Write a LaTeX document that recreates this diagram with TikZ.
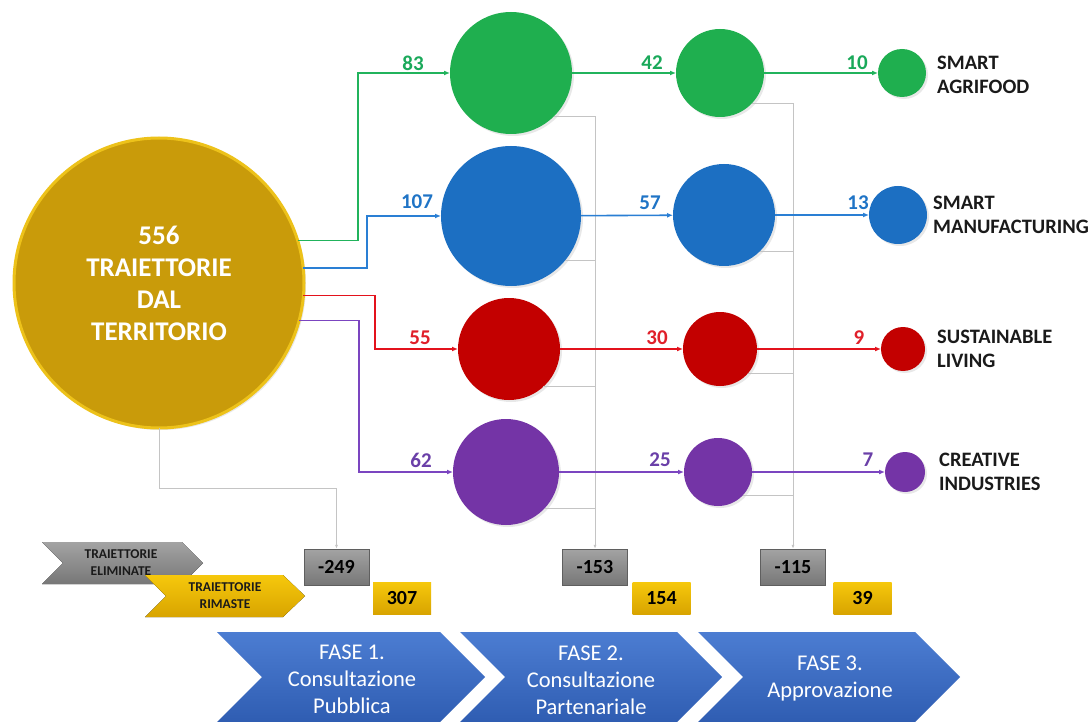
\documentclass[tikz,border=0pt]{standalone}
\usepackage{fontspec}
\setmainfont{Carlito}
\usetikzlibrary{arrows.meta,shadows}
\definecolor{goldfill}{HTML}{C99B0A}
\definecolor{goldrim}{HTML}{EDC21A}
\definecolor{gcirc}{HTML}{1FAF4F}
\definecolor{gline}{HTML}{21B35C}
\definecolor{glab}{HTML}{1AA95A}
\definecolor{bcirc}{HTML}{1C6FC2}
\definecolor{bline}{HTML}{2A7FD4}
\definecolor{blab}{HTML}{1F74C6}
\definecolor{rcirc}{HTML}{C30000}
\definecolor{rline}{HTML}{E3121C}
\definecolor{rlab}{HTML}{E0202A}
\definecolor{pcirc}{HTML}{7434A6}
\definecolor{pline}{HTML}{7B45C0}
\definecolor{plab}{HTML}{6A3FA8}
\definecolor{grayline}{HTML}{C4C4C4}
\definecolor{boxgraytop}{HTML}{A3A3A3}
\definecolor{boxgraybot}{HTML}{777777}
\definecolor{boxgoldtop}{HTML}{F6C80C}
\definecolor{boxgoldbot}{HTML}{D8A400}
\definecolor{phasetop}{HTML}{4C7DD2}
\definecolor{phasebot}{HTML}{2F5DB2}
\definecolor{cattext}{HTML}{1A1A1A}
\begin{document}
\begin{tikzpicture}[x=1pt,y=-1pt,
  bub/.style={circle, inner sep=0pt, outer sep=0pt, drop shadow={opacity=0.18, shadow xshift=2pt, shadow yshift=-2pt}},
  flow/.style={line width=1.6pt, -{Latex[length=6pt,width=5pt]}},
  gl/.style={draw=grayline, line width=1pt},
  glarrow/.style={gl, -{Latex[length=4pt,width=3pt]}},
  lbl/.style={font=\bfseries\fontsize{21}{22}\selectfont, inner sep=0pt},
  cat/.style={font=\bfseries\fontsize{20.5}{24}\selectfont, text=cattext, align=left, anchor=west, inner sep=0pt},
  graybox/.style={top color=boxgraytop, bottom color=boxgraybot, draw=boxgraybot!80!black, line width=0.4pt, minimum width=65pt, minimum height=36pt, inner sep=0pt, font=\bfseries\fontsize{20}{22}\selectfont, text=black},
  goldbox/.style={top color=boxgoldtop, bottom color=boxgoldbot, minimum width=58pt, minimum height=32pt, inner sep=0pt, font=\bfseries\fontsize{20}{22}\selectfont, text=black},
  legtxt/.style={font=\bfseries\fontsize{13.5}{17}\selectfont, align=center, text=cattext, inner sep=0pt},
  phasetxt/.style={font=\fontsize{22.5}{27}\selectfont, align=center, text=white, inner sep=0pt},
  phasechev/.style={top color=phasetop, bottom color=phasebot}
]
\useasboundingbox (0,0) rectangle (1090,722);
\fill[white] (0,0) rectangle (1090,722);

% ---- main circle
\node[bub, fill=goldfill, draw=goldrim, line width=3pt, minimum size=290pt,
      font=\bfseries\fontsize{27}{32}\selectfont, text=white, align=center] (big) at (159,283)
      {556\\TRAIETTORIE\\DAL\\TERRITORIO};

% ---- phase 1 circles
\node[bub, fill=gcirc, minimum size=122pt] (g1) at (511,73) {};
\node[bub, fill=bcirc, minimum size=140pt] (b1) at (511,216) {};
\node[bub, fill=rcirc, minimum size=102pt] (r1) at (509,349) {};
\node[bub, fill=pcirc, minimum size=106pt] (p1) at (506,472) {};
% ---- phase 2 circles
\node[bub, fill=gcirc, minimum size=88pt] (g2) at (720,73) {};
\node[bub, fill=bcirc, minimum size=102pt] (b2) at (724,215) {};
\node[bub, fill=rcirc, minimum size=74pt] (r2) at (720,349) {};
\node[bub, fill=pcirc, minimum size=68pt] (p2) at (718,472) {};
% ---- phase 3 circles
\node[bub, fill=gcirc, minimum size=48pt] (g3) at (902,73) {};
\node[bub, fill=bcirc, minimum size=58pt] (b3) at (898,215) {};
\node[bub, fill=rcirc, minimum size=44pt] (r3) at (903,349) {};
\node[bub, fill=pcirc, minimum size=40pt] (p3) at (905,472) {};

% ---- category labels
\node[cat] (cg) at (937,75) {SMART\\AGRIFOOD};
\node[cat] (cb) at (933,215) {SMART\\MANUFACTURING};
\node[cat] (cr) at (937,349) {SUSTAINABLE\\LIVING};
\node[cat] (cp) at (939,472) {CREATIVE\\INDUSTRIES};

% ---- boxes
\node[graybox] (n249) at (336.5,567) {-249};
\node[goldbox] (n307) at (402,598) {307};
\node[graybox] (n153) at (595,567) {-153};
\node[goldbox] (n154) at (661.5,598) {154};
\node[graybox] (n115) at (793,567) {-115};
\node[goldbox] (n39) at (862.5,598) {39};

% ---- gray elimination lines
\coordinate (ky) at (0,488);
\draw[glarrow] (big.south) -- (big.south |- ky) -| (n249.north);
\draw[glarrow] (g1.-45) -| (n153.north);
\draw[gl] (b1.-40) -- (b1.-40 -| n153.north);
\draw[gl] (r1.-48) -- (r1.-48 -| n153.north);
\draw[gl] (p1.-43) -- (p1.-43 -| n153.north);
\draw[glarrow] (g2.-43) -| (n115.north);
\draw[gl] (b2.-45) -- (b2.-45 -| n115.north);
\draw[gl] (r2.-42) -- (r2.-42 -| n115.north);
\draw[gl] (p2.-43) -- (p2.-43 -| n115.north);

% ---- colored connectors from main circle
\coordinate (xg) at (358,0);
\coordinate (xb) at (367,0);
\coordinate (xr) at (375,0);
\coordinate (xp) at (359,0);
\draw[flow, gline] (big.17) -| (xg |- g1.west) -- (g1.west);
\draw[flow, bline] (big.6) -| (xb |- b1.west) -- (b1.west);
\draw[flow, rline] (big.-5) -| (xr |- r1.west) -- (r1.west);
\draw[flow, pline] (big.-15) -| (xp |- p1.west) -- (p1.west);

% ---- phase connectors
\draw[flow, gline] (g1) -- (g2);
\draw[flow, gline] (g2) -- (g3);
\draw[flow, bline] (b1) -- (b2);
\draw[flow, bline] (b2) -- (b3);
\draw[flow, rline] (r1) -- (r2);
\draw[flow, rline] (r2) -- (r3);
\draw[flow, pline] (p1) -- (p2);
\draw[flow, pline] (p2) -- (p3);

% ---- number labels
\node[lbl, text=glab] (l83) at (413,63) {83};
\node[lbl, text=blab] (l107) at (417,202) {107};
\node[lbl, text=rlab] (l55) at (420,338) {55};
\node[lbl, text=plab] (l62) at (421,460) {62};
\node[lbl, text=glab] (l42) at (652,63) {42};
\node[lbl, text=blab] (l57) at (650,203) {57};
\node[lbl, text=rlab] (l30) at (657,338) {30};
\node[lbl, text=plab] (l25) at (660,460) {25};
\node[lbl, text=glab] (l10) at (857,63) {10};
\node[lbl, text=blab] (l13) at (858,203) {13};
\node[lbl, text=rlab] (l9) at (859,338) {9};
\node[lbl, text=plab] (l7) at (868,460) {7};

% ---- legend chevrons
\fill[top color=boxgraytop, bottom color=boxgraybot] (42,542) -- (182,542) -- (203,563) -- (182,584) -- (42,584) -- (63,563) -- cycle;
\node[legtxt] (lelim) at (121,563) {TRAIETTORIE\\ELIMINATE};
\fill[top color=boxgoldtop, bottom color=boxgoldbot] (145,575) -- (283,575) -- (305,596) -- (283,617) -- (145,617) -- (166,596) -- cycle;
\node[legtxt] (lrim) at (225,596) {TRAIETTORIE\\RIMASTE};

% ---- phase chevrons
\path[phasechev] (217,632) -- (440,632) -- (485,677) -- (440,722) -- (217,722) -- (262,677) -- cycle;
\path[phasechev] (460,632) -- (677,632) -- (722,677) -- (677,722) -- (460,722) -- (505,677) -- cycle;
\path[phasechev] (698,632) -- (915,632) -- (960,677) -- (915,722) -- (698,722) -- (743,677) -- cycle;
\node[phasetxt] (f1) at (352,679) {FASE 1.\\Consultazione\\Pubblica};
\node[phasetxt] (f2) at (591,680) {FASE 2.\\Consultazione\\Partenariale};
\node[phasetxt] (f3) at (830,679) {FASE 3.\\Approvazione};
\end{tikzpicture}
\end{document}
